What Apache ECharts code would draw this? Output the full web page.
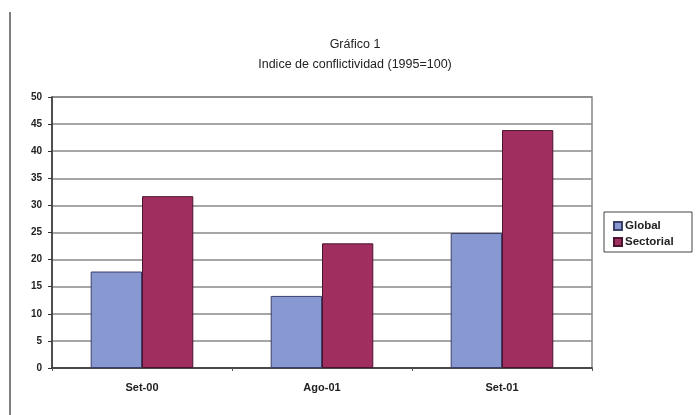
<!DOCTYPE html>
<html><head><meta charset="utf-8">
<script src="https://cdn.jsdelivr.net/npm/echarts@6/dist/echarts.min.js"></script>
<style>html,body{margin:0;padding:0;background:#fff}#c{width:696px;height:415px}</style>
</head><body><div id="c"></div>
<script>
const categories = ['Set-00', 'Ago-01', 'Set-01'];
const globalValues = [17.8, 13.3, 24.9];
const sectorialValues = [31.7, 23.0, 43.9];
const yTicks = [0, 5, 10, 15, 20, 25, 30, 35, 40, 45, 50];

const chart = echarts.init(document.getElementById('c'));
chart.setOption({
  backgroundColor: '#fff',
  animation: false,
  title: {
    text: 'Gráfico 1\nIndice de conflictividad (1995=100)',
    left: 350, top: 30, textAlign: 'center',
    textStyle: { fontFamily: 'Liberation Sans', fontSize: 12.5, fontWeight: 'normal', color: '#222', lineHeight: 20 }
  },
  graphic: [
    { type: 'line', shape: { x1: 10, y1: 12, x2: 10, y2: 415 }, style: { stroke: '#555', lineWidth: 1.5 } },
    { type: 'rect', shape: { x: 604, y: 212, width: 88, height: 40 }, style: { fill: '#fff', stroke: '#444', lineWidth: 1 } }
  ],
  legend: {
    orient: 'vertical', left: 608, top: 215, itemGap: 4,
    itemWidth: 8, itemHeight: 8, icon: 'rect',
    textStyle: { fontFamily: 'Liberation Sans', fontSize: 11.5, fontWeight: 'bold', color: '#222', padding: [0, 0, 0, -2] },
    data: ['Global', 'Sectorial']
  },
  grid: { left: 52, right: 104, top: 97, bottom: 47, show: true, borderColor: '#888', borderWidth: 1.5, backgroundColor: '#fff' },
  xAxis: {
    type: 'category', data: categories,
    axisLine: { lineStyle: { color: '#333', width: 1.5 } },
    axisTick: { show: true, lineStyle: { color: '#555' }, length: 3 },
    axisLabel: { fontFamily: 'Liberation Sans', fontSize: 11, fontWeight: 'bold', color: '#222', margin: 14 }
  },
  yAxis: {
    type: 'value', min: yTicks[0], max: yTicks[yTicks.length - 1], interval: 5,
    axisLine: { show: true, lineStyle: { color: '#333', width: 1.5 } },
    axisTick: { show: true, length: 4, lineStyle: { color: '#333' } },
    axisLabel: { fontFamily: 'Liberation Sans', fontSize: 10, fontWeight: 'bold', color: '#222', margin: 10 },
    splitLine: { show: true, lineStyle: { color: '#888', width: 1.5 } }
  },
  series: [
    { name: 'Global', type: 'bar', data: globalValues, barWidth: '28.5%', barGap: '0%',
      itemStyle: { color: '#8898d0', borderColor: '#3a3f6a', borderWidth: 1 } },
    { name: 'Sectorial', type: 'bar', data: sectorialValues, barWidth: '28.5%',
      itemStyle: { color: '#a02f60', borderColor: '#4a1530', borderWidth: 1 } }
  ]
});
</script></body></html>
